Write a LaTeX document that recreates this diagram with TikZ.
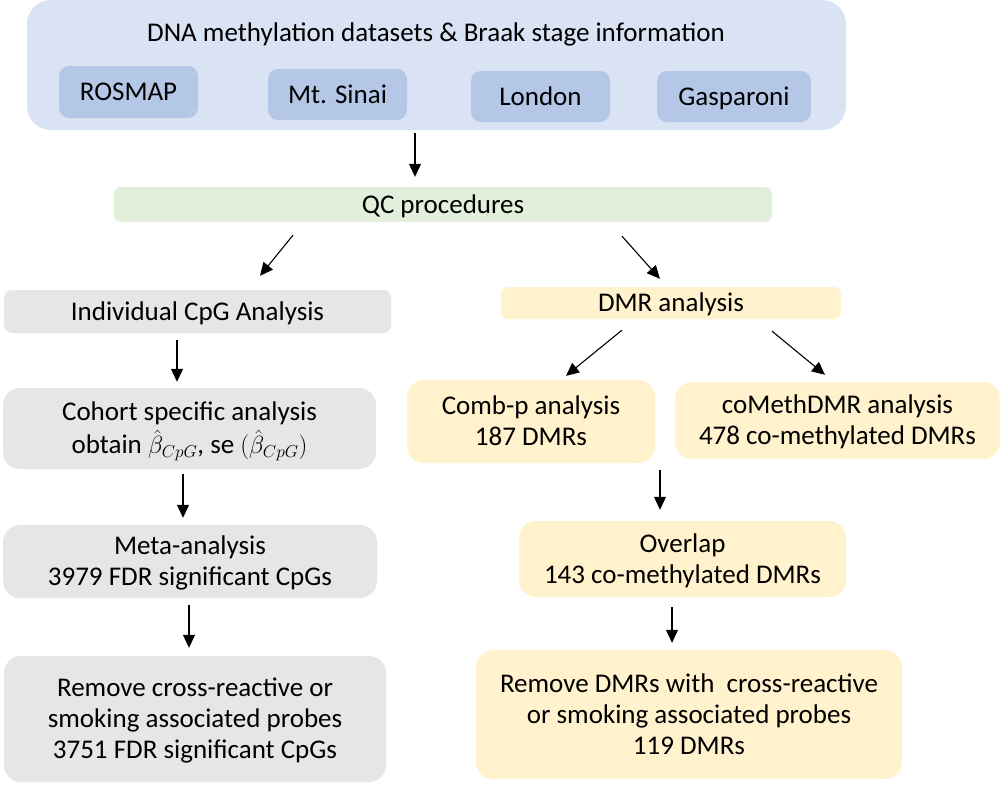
\documentclass[tikz,border=0pt]{standalone}
\usepackage{fontspec}
\setmainfont{Carlito}
\usetikzlibrary{arrows.meta}
\definecolor{outerblue}{HTML}{DAE3F3}
\definecolor{innerblue}{HTML}{B4C7E7}
\definecolor{qcgreen}{HTML}{E2EFDA}
\definecolor{boxgray}{HTML}{E7E6E6}
\definecolor{boxyellow}{HTML}{FFF2CC}
\newcommand{\boxtext}[1]{\raisebox{-2.5pt}[\height][\depth]{\begin{tabular}{@{}c@{}}#1\end{tabular}}}
\tikzset{
  base/.style={rectangle, inner sep=0pt, font=\fontsize{27}{31}\selectfont},
  outerbox/.style={base, fill=outerblue, rounded corners=24pt},
  cohortbox/.style={base, fill=innerblue, rounded corners=10pt},
  qcbox/.style={base, fill=qcgreen, rounded corners=7pt},
  graybox/.style={base, fill=boxgray, rounded corners=17pt},
  yellowbox/.style={base, fill=boxyellow, rounded corners=17pt},
  flatyellow/.style={base, fill=boxyellow, rounded corners=7pt},
  arr/.style={-{Triangle[length=13pt,width=12pt]}, line width=1.1pt, black},
}
\begin{document}
\begin{tikzpicture}[x=1pt,y=-1pt]
\useasboundingbox (0,0) rectangle (1000,784);
% top block
\node[outerbox, minimum width=819pt, minimum height=130pt] (top) at (436.5,65) {};
\node[base] (title) at (436,33) {\boxtext{DNA methylation datasets \& Braak stage information}};
\node[cohortbox, minimum width=139pt, minimum height=52pt] (rosmap) at (128.5,92) {\boxtext{ROSMAP}};
\node[cohortbox, minimum width=139pt, minimum height=51pt] (sinai) at (337.5,94.5) {\boxtext{Mt. Sinai}};
\node[cohortbox, minimum width=139pt, minimum height=51pt] (london) at (540.5,96.5) {\boxtext{London}};
\node[cohortbox, minimum width=154pt, minimum height=51pt] (gasp) at (734,96.5) {\boxtext{Gasparoni}};
% QC
\node[qcbox, minimum width=658pt, minimum height=35pt] (qc) at (443,204.5) {\boxtext{QC procedures}};
% left column
\node[graybox, rounded corners=8pt, minimum width=387pt, minimum height=43pt] (ind) at (197.5,311.5) {\boxtext{Individual CpG Analysis}};
\node[graybox, minimum width=373pt, minimum height=81pt] (cohort) at (189.5,428.5) {\boxtext{Cohort specific analysis\\obtain $\hat{\beta}_{CpG}$, se $(\hat{\beta}_{CpG})$}};
\node[graybox, minimum width=374pt, minimum height=73pt] (meta) at (190,561.5) {\boxtext{Meta-analysis\\3979 FDR significant CpGs}};
\node[graybox, minimum width=382pt, minimum height=126pt] (remove) at (195,719) {\boxtext{Remove cross-reactive or\\smoking associated probes\\3751 FDR significant CpGs}};
% right column
\node[flatyellow, minimum width=340pt, minimum height=32pt] (dmr) at (671,303) {\boxtext{DMR analysis}};
\node[yellowbox, minimum width=248pt, minimum height=83pt] (combp) at (531,421.5) {\boxtext{Comb-p analysis\\187 DMRs}};
\node[yellowbox, minimum width=325pt, minimum height=77pt] (cometh) at (837.5,420.5) {\boxtext{coMethDMR analysis\\478 co-methylated DMRs}};
\node[yellowbox, minimum width=327pt, minimum height=76pt] (overlap) at (682.5,559) {\boxtext{Overlap\\143 co-methylated DMRs}};
\node[yellowbox, minimum width=426pt, minimum height=129pt] (removedmr) at (689,714.5) {\boxtext{Remove DMRs with~ cross-reactive\\or smoking associated probes\\119 DMRs}};
\coordinate (join) at (660,470);
% connectors
\draw[arr, shorten <=3pt, shorten >=10pt] ([xshift=-21.5pt]top.south) -- ([xshift=-28pt]qc.north);
\draw[arr, shorten <=16.7pt, shorten >=18pt] ([xshift=-139.5pt]qc.south) -- ([xshift=51.2pt]ind.north);
\draw[arr, shorten <=18.7pt, shorten >=10.7pt] ([xshift=166.6pt]qc.south) -- ([xshift=-4pt]dmr.north);
\draw[arr, shorten <=7pt, shorten >=6pt] ([xshift=-20.5pt]ind.south) -- ([xshift=-12.5pt]cohort.north);
\draw[arr, shorten <=5pt, shorten >=7pt] ([xshift=-6.5pt]cohort.south) -- ([xshift=-7pt]meta.north);
\draw[arr, shorten <=7pt, shorten >=8pt] ([xshift=-1pt]meta.south) -- ([xshift=-6pt]remove.north);
\draw[arr, shorten <=17.3pt, shorten >=6.3pt] ([xshift=-35.6pt]dmr.south) -- ([xshift=30.1pt]combp.north);
\draw[arr, shorten <=18.8pt, shorten >=11pt] ([xshift=86.5pt]dmr.south) -- ([xshift=-4pt]cometh.north);
\draw[arr, shorten >=11pt] (join) -- ([xshift=-22.5pt]overlap.north);
\draw[arr, shorten <=10pt, shorten >=7pt] ([xshift=-10.5pt]overlap.south) -- ([xshift=-17pt]removedmr.north);
\end{tikzpicture}
\end{document}
